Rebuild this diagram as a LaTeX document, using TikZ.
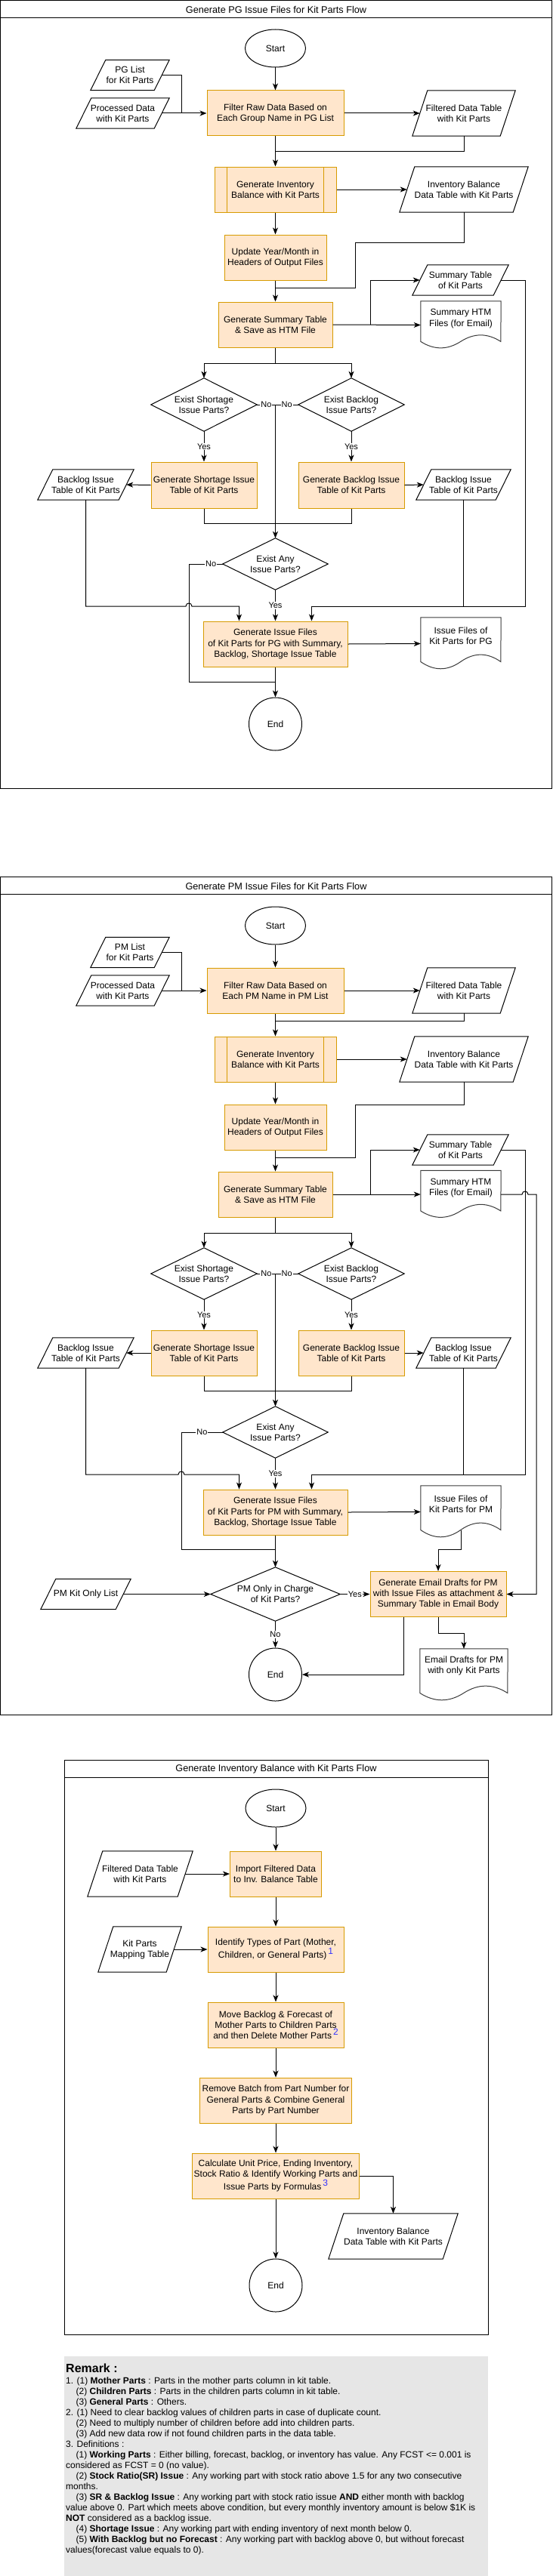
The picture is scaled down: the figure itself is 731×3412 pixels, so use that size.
\documentclass[tikz,border=0pt]{standalone}
\usepackage{fontspec}
\setmainfont{Liberation Sans}
\usetikzlibrary{shapes.geometric,arrows.meta,calc}
\definecolor{ofill}{HTML}{FFE6CC}
\definecolor{oline}{HTML}{D79B00}
\definecolor{remfill}{HTML}{E6E6E6}
\definecolor{supblue}{HTML}{3333FF}
\definecolor{docline}{HTML}{3A3A3A}
\newcommand{\parashape}[1]{\draw[shp] ([xshift=20pt]#1.north west) -- (#1.north east) -- ([xshift=-20pt]#1.south east) -- (#1.south west) -- cycle;}
\newcommand{\diashape}[1]{\draw[shp] (#1.north) -- (#1.east) -- (#1.south) -- (#1.west) -- cycle;}
\newcommand{\docshape}[3]{\draw[shp, draw=docline] (#1.north west) -- (#1.north east) -- ($(#1.north west)+(#2,0.85*#3)$) .. controls ($(#1.north west)+(0.8333*#2,0.67*#3)$) and ($(#1.north west)+(0.6667*#2,0.67*#3)$) .. ($(#1.north west)+(0.5*#2,0.85*#3)$) .. controls ($(#1.north west)+(0.3333*#2,1.03*#3)$) and ($(#1.north west)+(0.1667*#2,1.03*#3)$) .. ($(#1.north west)+(0,0.85*#3)$) -- cycle;}
\newcommand{\predef}[1]{\draw[oline, line width=1pt] ([xshift=17pt]#1.north west) -- ([xshift=17pt]#1.south west) ([xshift=-17pt]#1.north east) -- ([xshift=-17pt]#1.south east);}
\newcommand{\supn}[1]{\,\raisebox{5.5pt}{\textcolor{supblue}{#1}}}
\newcommand{\ind}{\hspace*{13.4pt}}
\begin{document}
\begin{tikzpicture}[x=1pt,y=-1pt,
  base/.style={font=\fontsize{12}{14.2}\selectfont, align=center, inner sep=0pt},
  box/.style={base, rectangle, draw=oline, fill=ofill, line width=1pt},
  term/.style={base, ellipse, draw=black, fill=white, line width=1pt},
  plain/.style={base, rectangle},
  txt/.style={base},
  shp/.style={draw=black, line width=1pt},
  ln/.style={line width=1pt},
  arr/.style={line width=1pt, -{Stealth[length=9pt,width=7pt,inset=2.5pt]}},
  elab/.style={font=\fontsize{11}{13}\selectfont, fill=white, inner sep=1pt},
  frame/.style={draw=black, line width=1pt},
  ftitle/.style={font=\fontsize{12.7}{14}\selectfont, inner sep=0pt}]
\useasboundingbox (0,0) rectangle (731,3412);

% ================= PG FLOW =================
\draw[frame] (0.75,0.75) rectangle (730.25,1044);
\draw[frame] (0.75,23.5) -- (730.25,23.5);
\node[ftitle] (tPG) at (365.5,12.5) {Generate PG Issue Files for Kit Parts Flow};

\node[term, minimum width=80pt, minimum height=50pt] (startPG) at (364.5,64) {Start};
\node[plain, minimum width=104pt, minimum height=40pt] (pgList) at (172,99.5) {PG List\\for Kit Parts};
\node[plain, minimum width=123pt, minimum height=40pt] (procPG) at (162.5,150) {Processed Data\\with Kit Parts};
\node[box, minimum width=181pt, minimum height=60pt] (filterPG) at (364.5,150) {Filter Raw Data Based on\\Each Group Name in PG List};
\node[plain, minimum width=136pt, minimum height=60pt] (filteredPG) at (614,150) {Filtered Data Table\\with Kit Parts};
\node[box, minimum width=161pt, minimum height=60pt] (invPG) at (364.5,251) {Generate Inventory\\Balance with Kit Parts};
\node[plain, minimum width=170pt, minimum height=60pt] (invBalPG) at (614,251) {Inventory Balance\\Data Table with Kit Parts};
\node[box, minimum width=135pt, minimum height=60pt] (updPG) at (364.5,341) {Update Year/Month in\\Headers of Output Files};
\node[box, minimum width=151pt, minimum height=60pt] (sumPG) at (364.5,430) {Generate Summary Table\\\& Save as HTM File};
\node[plain, minimum width=127pt, minimum height=40pt] (sumTabPG) at (609.5,371) {Summary Table\\of Kit Parts};
\node[plain, minimum width=106pt, minimum height=63pt] (htmPG) at (610,430.5) {};
\node[txt] (htmPGt) at (610,422) {Summary HTM\\Files (for Email)};
\node[plain, minimum width=140pt, minimum height=70pt] (shortDPG) at (270,536) {Exist Shortage\\Issue Parts?};
\node[plain, minimum width=140pt, minimum height=70pt] (backDPG) at (465,536) {Exist Backlog\\Issue Parts?};
\node[box, minimum width=140pt, minimum height=61pt] (shortBPG) at (270,642.5) {Generate Shortage Issue\\Table of Kit Parts};
\node[box, minimum width=140pt, minimum height=61pt] (backBPG) at (465,642.5) {Generate Backlog Issue\\Table of Kit Parts};
\node[plain, minimum width=127pt, minimum height=40pt] (blLPG) at (113.5,642) {Backlog Issue\\Table of Kit Parts};
\node[plain, minimum width=125pt, minimum height=40pt] (blRPG) at (613.5,642) {Backlog Issue\\Table of Kit Parts};
\node[plain, minimum width=139pt, minimum height=68pt] (anyDPG) at (364.5,747) {Exist Any\\Issue Parts?};
\node[box, minimum width=191pt, minimum height=60pt] (issPG) at (364.5,853) {Generate Issue Files\\of Kit Parts for PG with Summary,\\Backlog, Shortage Issue Table};
\node[plain, minimum width=106pt, minimum height=69pt] (issDocPG) at (610,852.5) {};
\node[txt] (issDocPGt) at (610,842) {Issue Files of\\Kit Parts for PG};
\node[term, minimum width=70pt, minimum height=70pt] (endPG) at (364.5,959) {End};

\parashape{pgList}\parashape{procPG}\parashape{filteredPG}\parashape{invBalPG}
\parashape{sumTabPG}\parashape{blLPG}\parashape{blRPG}
\diashape{shortDPG}\diashape{backDPG}\diashape{anyDPG}
\docshape{htmPG}{106}{63}\docshape{issDocPG}{106}{69}
\predef{invPG}

\draw[arr] (startPG.south) -- (filterPG.north);
\draw[ln] ([xshift=-10pt]pgList.east) -| (240,150);
\draw[arr] ([xshift=-10pt]procPG.east) -- (filterPG.west);
\draw[arr] (filterPG.east) -- ([xshift=10pt]filteredPG.west);
\draw[ln] (filteredPG.south) |- (364.5,200.5);
\draw[arr] (filterPG.south) -- (invPG.north);
\draw[arr] (invPG.east) -- ([xshift=10pt]invBalPG.west);
\draw[arr] (invPG.south) -- (updPG.north);
\draw[ln] (invBalPG.south) -- (614,321) -| (470,381) -- (364.5,381);
\draw[arr] (updPG.south) -- (sumPG.north);
\draw[arr] (sumPG.east) -- (htmPG.west);
\draw[arr] ($(sumPG.east)+(50,0)$) |- ([xshift=10pt]sumTabPG.west);
\draw[arr] ([xshift=-10pt]sumTabPG.east) -| (695,803) -| ($(issPG.north)!0.5!(issPG.north east)$);
\draw[ln] (blRPG.south) -- ++(0,141);
\draw[arr] (sumPG.south) -- ++(0,21) -| (shortDPG.north);
\draw[arr] (sumPG.south) -- ++(0,21) -| (backDPG.north);
\draw[arr] (shortDPG.south) -- node[elab]{Yes} (shortBPG.north);
\draw[arr] (backDPG.south) -- node[elab]{Yes} (backBPG.north);
\draw[arr] (shortBPG.west) -- ([xshift=-10pt]blLPG.east);
\draw[arr] (backBPG.east) -- ([xshift=10pt]blRPG.west);
\draw[ln] (shortBPG.south) -- ++(0,19.5) -| (backBPG.south);
\draw[ln] (shortDPG.east) -- node[elab]{No} (364.5,536);
\draw[ln] (backDPG.west) -- node[elab]{No} (364.5,536);
\draw[arr] (364.5,536) -- (anyDPG.north);
\draw[ln] (anyDPG.west) -- node[elab,pos=0.35]{No} (250,747) |- (364.5,903);
\draw[arr] (blLPG.south) -- (113.5,803) -- (246,803) .. controls (246,797.67) and (254,797.67) .. (254,803) -| ($(issPG.north west)!0.5!(issPG.north)$);
\draw[arr] (anyDPG.south) -- node[elab]{Yes} (issPG.north);
\draw[arr] (issPG.east) -- (issDocPG.west);
\draw[arr] (issPG.south) -- (endPG.north);

% ================= PM FLOW =================
\draw[frame] (0.75,1161.5) rectangle (730.25,2271);
\draw[frame] (0.75,1184.5) -- (730.25,1184.5);
\node[ftitle] (tPM) at (365.5,1173.5) {Generate PM Issue Files for Kit Parts Flow};

\node[term, minimum width=80pt, minimum height=50pt] (startPM) at (364.5,1226) {Start};
\node[plain, minimum width=104pt, minimum height=40pt] (pmList) at (172,1261.5) {PM List\\for Kit Parts};
\node[plain, minimum width=123pt, minimum height=40pt] (procPM) at (162.5,1312) {Processed Data\\with Kit Parts};
\node[box, minimum width=181pt, minimum height=60pt] (filterPM) at (364.5,1312) {Filter Raw Data Based on\\Each PM Name in PM List};
\node[plain, minimum width=136pt, minimum height=60pt] (filteredPM) at (614,1312) {Filtered Data Table\\with Kit Parts};
\node[box, minimum width=161pt, minimum height=60pt] (invPM) at (364.5,1403) {Generate Inventory\\Balance with Kit Parts};
\node[plain, minimum width=170pt, minimum height=60pt] (invBalPM) at (614,1403) {Inventory Balance\\Data Table with Kit Parts};
\node[box, minimum width=135pt, minimum height=60pt] (updPM) at (364.5,1493) {Update Year/Month in\\Headers of Output Files};
\node[box, minimum width=151pt, minimum height=60pt] (sumPM) at (364.5,1582) {Generate Summary Table\\\& Save as HTM File};
\node[plain, minimum width=127pt, minimum height=40pt] (sumTabPM) at (609.5,1523) {Summary Table\\of Kit Parts};
\node[plain, minimum width=106pt, minimum height=63pt] (htmPM) at (610,1582) {};
\node[txt] (htmPMt) at (610,1573.7) {Summary HTM\\Files (for Email)};
\node[plain, minimum width=140pt, minimum height=68pt] (shortDPM) at (270,1687) {Exist Shortage\\Issue Parts?};
\node[plain, minimum width=140pt, minimum height=68pt] (backDPM) at (465,1687) {Exist Backlog\\Issue Parts?};
\node[box, minimum width=140pt, minimum height=60pt] (shortBPM) at (270,1792) {Generate Shortage Issue\\Table of Kit Parts};
\node[box, minimum width=140pt, minimum height=60pt] (backBPM) at (465,1792) {Generate Backlog Issue\\Table of Kit Parts};
\node[plain, minimum width=127pt, minimum height=40pt] (blLPM) at (113.5,1792) {Backlog Issue\\Table of Kit Parts};
\node[plain, minimum width=125pt, minimum height=40pt] (blRPM) at (613.5,1792) {Backlog Issue\\Table of Kit Parts};
\node[plain, minimum width=139pt, minimum height=68pt] (anyDPM) at (364.5,1897) {Exist Any\\Issue Parts?};
\node[box, minimum width=191pt, minimum height=60pt] (issPM) at (364.5,2003) {Generate Issue Files\\of Kit Parts for PM with Summary,\\Backlog, Shortage Issue Table};
\node[plain, minimum width=106pt, minimum height=69pt] (issDocPM) at (610,2002.5) {};
\node[txt] (issDocPMt) at (610,1992) {Issue Files of\\Kit Parts for PM};
\node[plain, minimum width=171pt, minimum height=71pt] (pmOnlyD) at (364.5,2111.5) {PM Only in Charge\\of Kit Parts?};
\node[plain, minimum width=119pt, minimum height=40pt] (pmKitList) at (113.5,2111.5) {PM Kit Only List};
\node[box, minimum width=180pt, minimum height=60pt] (emailPM) at (580,2111.5) {Generate Email Drafts for PM\\with Issue Files as attachment \&\\Summary Table in Email Body};
\node[term, minimum width=70pt, minimum height=70pt] (endPM) at (364.5,2218) {End};
\node[plain, minimum width=116pt, minimum height=69pt] (emailDoc) at (614,2218.5) {};
\node[txt] (emailDoct) at (614,2206.5) {Email Drafts for PM\\with only Kit Parts};

\parashape{pmList}\parashape{procPM}\parashape{filteredPM}\parashape{invBalPM}
\parashape{sumTabPM}\parashape{blLPM}\parashape{blRPM}\parashape{pmKitList}
\diashape{shortDPM}\diashape{backDPM}\diashape{anyDPM}\diashape{pmOnlyD}
\docshape{htmPM}{106}{63}\docshape{issDocPM}{106}{69}\docshape{emailDoc}{116}{69}
\predef{invPM}

\draw[arr] (startPM.south) -- (filterPM.north);
\draw[ln] ([xshift=-10pt]pmList.east) -| (240,1312);
\draw[arr] ([xshift=-10pt]procPM.east) -- (filterPM.west);
\draw[arr] (filterPM.east) -- ([xshift=10pt]filteredPM.west);
\draw[ln] (filteredPM.south) |- (364.5,1352);
\draw[arr] (filterPM.south) -- (invPM.north);
\draw[arr] (invPM.east) -- ([xshift=10pt]invBalPM.west);
\draw[arr] (invPM.south) -- (updPM.north);
\draw[ln] (invBalPM.south) -- (614,1463) -| (470,1533) -- (364.5,1533);
\draw[arr] (updPM.south) -- (sumPM.north);
\draw[arr] (sumPM.east) -- (htmPM.west);
\draw[arr] ($(sumPM.east)+(50,0)$) |- ([xshift=10pt]sumTabPM.west);
\draw[arr] ([xshift=-10pt]sumTabPM.east) -| (695,1953) -| ($(issPM.north)!0.5!(issPM.north east)$);
\draw[arr] (htmPM.east) -- (691,1582) .. controls (691,1576.67) and (699,1576.67) .. (699,1582) -- (710,1582) |- (emailPM.east);
\draw[ln] (blRPM.south) -- ++(0,141);
\draw[arr] (sumPM.south) -- ++(0,21) -| (shortDPM.north);
\draw[arr] (sumPM.south) -- ++(0,21) -| (backDPM.north);
\draw[arr] (shortDPM.south) -- node[elab]{Yes} (shortBPM.north);
\draw[arr] (backDPM.south) -- node[elab]{Yes} (backBPM.north);
\draw[arr] (shortBPM.west) -- ([xshift=-10pt]blLPM.east);
\draw[arr] (backBPM.east) -- ([xshift=10pt]blRPM.west);
\draw[ln] (shortBPM.south) -- ++(0,20) -| (backBPM.south);
\draw[ln] (shortDPM.east) -- node[elab]{No} (364.5,1687);
\draw[ln] (backDPM.west) -- node[elab]{No} (364.5,1687);
\draw[arr] (364.5,1687) -- (anyDPM.north);
\draw[ln] (anyDPM.west) -- node[elab]{No} (240,1897) |- (364.5,2052);
\draw[arr] (blLPM.south) -- (113.5,1953) -- (236,1953) .. controls (236,1947.67) and (244,1947.67) .. (244,1953) -| ($(issPM.north west)!0.5!(issPM.north)$);
\draw[arr] (anyDPM.south) -- node[elab]{Yes} (issPM.north);
\draw[arr] (issPM.east) -- (issDocPM.west);
\draw[arr] (issPM.south) -- (pmOnlyD.north);
\draw[arr] ([yshift=10.4pt]issDocPM.south) -- (610,2052) -| (emailPM.north);
\draw[arr] ([xshift=-10pt]pmKitList.east) -- (pmOnlyD.west);
\draw[arr] (pmOnlyD.east) -- node[elab]{Yes} (emailPM.west);
\draw[arr] (pmOnlyD.south) -- node[elab]{No} (endPM.north);
\draw[arr] ($(emailPM.south west)!0.5!(emailPM.south)$) |- (endPM.east);
\draw[arr] (emailPM.south) -- ++(0,21.5) -| (emailDoc.north);

% ================= INVENTORY FLOW =================
\draw[frame] (85,2331) rectangle (646,3092);
\draw[frame] (85,2354) -- (646,2354);
\node[ftitle] (tInv) at (365.5,2343) {Generate Inventory Balance with Kit Parts Flow};

\node[term, minimum width=80pt, minimum height=50pt] (startInv) at (365,2395) {Start};
\node[box, minimum width=121pt, minimum height=60pt] (importB) at (365,2482) {Import Filtered Data\\to Inv. Balance Table};
\node[plain, minimum width=139pt, minimum height=60pt] (filtInv) at (185.5,2482) {Filtered Data Table\\with Kit Parts};
\node[box, minimum width=180pt, minimum height=60pt] (identB) at (365,2582) {Identify Types of Part (Mother,\\Children, or General Parts)\supn{1}};
\node[plain, minimum width=110pt, minimum height=60pt] (mapInv) at (185,2582) {Kit Parts\\Mapping Table};
\node[box, minimum width=180pt, minimum height=60pt] (moveB) at (365,2682) {Move Backlog \& Forecast of\\Mother Parts to Children Parts\\and then Delete Mother Parts\supn{2}};
\node[box, minimum width=201pt, minimum height=60pt] (removeB) at (365,2782) {Remove Batch from Part Number for\\General Parts \& Combine General\\Parts by Part Number};
\node[box, minimum width=221pt, minimum height=60pt] (calcB) at (365,2882) {Calculate Unit Price, Ending Inventory,\\Stock Ratio \& Identify Working Parts and\\Issue Parts by Formulas\supn{3}};
\node[plain, minimum width=171pt, minimum height=60pt] (invBalInv) at (520.5,2962) {Inventory Balance\\Data Table with Kit Parts};
\node[term, minimum width=70pt, minimum height=70pt] (endInv) at (365,3027) {End};

\parashape{filtInv}\parashape{mapInv}\parashape{invBalInv}

\draw[arr] (startInv.south) -- (importB.north);
\draw[arr] ([xshift=-10pt]filtInv.east) -- (importB.west);
\draw[arr] (importB.south) -- (identB.north);
\draw[arr] ([xshift=-10pt]mapInv.east) -- (identB.west);
\draw[arr] (identB.south) -- (moveB.north);
\draw[arr] (moveB.south) -- (removeB.north);
\draw[arr] (removeB.south) -- (calcB.north);
\draw[arr] (calcB.south) -- (endInv.north);
\draw[arr] (calcB.east) -| (invBalInv.north);

% ================= REMARK =================
\fill[remfill] (85,3121) rectangle (646,3412);
\node[anchor=base west, inner sep=0pt, font=\bfseries\fontsize{16}{19}\selectfont] (remTitle) at (87,3142.7) {Remark :};
\node[anchor=north west, align=left, inner sep=0pt, font=\fontsize{12}{14}\selectfont] (remBody) at (87,3148.8) {%
1. (1) \textbf{Mother Parts} : Parts in the mother parts column in kit table.\\
\ind(2) \textbf{Children Parts} : Parts in the children parts column in kit table.\\
\ind(3) \textbf{General Parts} : Others.\\
2. (1) Need to clear backlog values of children parts in case of duplicate count.\\
\ind(2) Need to multiply number of children before add into children parts.\\
\ind(3) Add new data row if not found children parts in the data table.\\
3. Definitions :\\
\ind(1) \textbf{Working Parts} : Either billing, forecast, backlog, or inventory has value. Any FCST <= 0.001 is\\
considered as FCST = 0 (no value).\\
\ind(2) \textbf{Stock Ratio(SR) Issue} : Any working part with stock ratio above 1.5 for any two consecutive\\
months.\\
\ind(3) \textbf{SR \& Backlog Issue} : Any working part with stock ratio issue \textbf{AND} either month with backlog\\
value above 0. Part which meets above condition, but every monthly inventory amount is below \$1K is\\
\textbf{NOT} considered as a backlog issue.\\
\ind(4) \textbf{Shortage Issue} : Any working part with ending inventory of next month below 0.\\
\ind(5) \textbf{With Backlog but no Forecast} : Any working part with backlog above 0, but without forecast\\
values(forecast value equals to 0).};
\end{tikzpicture}
\end{document}
